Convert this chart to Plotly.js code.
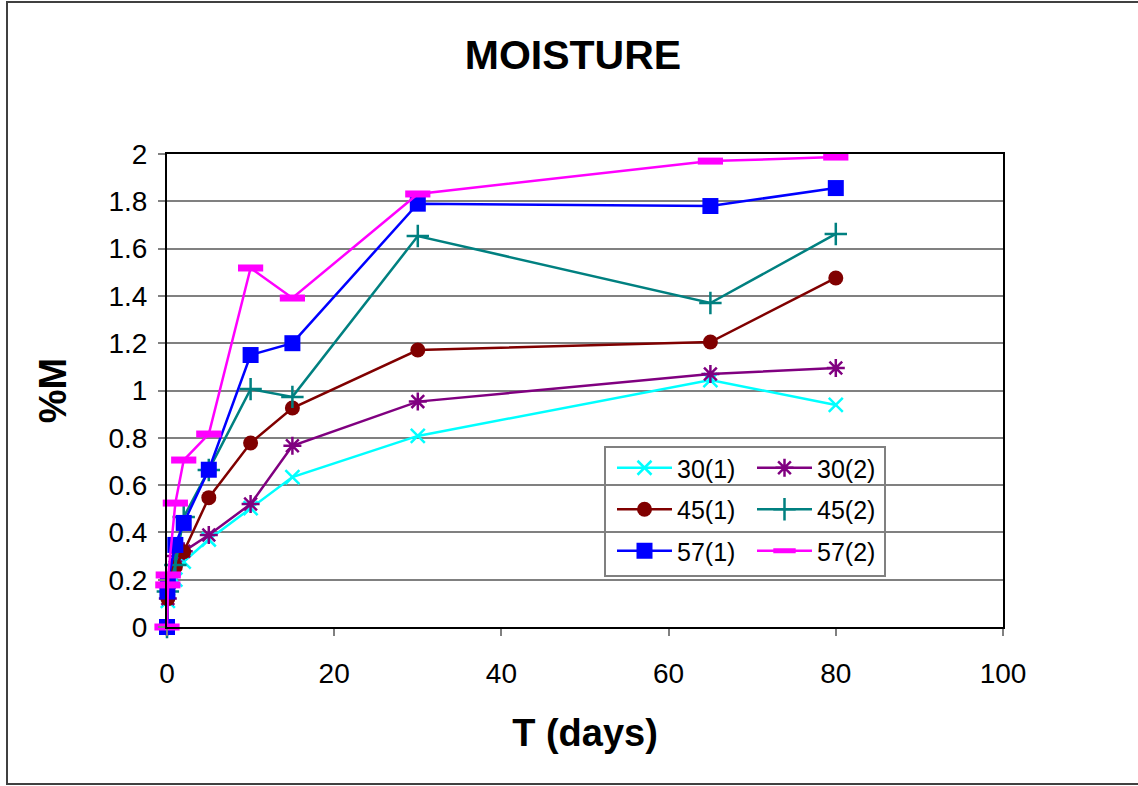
<!DOCTYPE html>
<html><head><meta charset="utf-8">
<script src="https://cdn.plot.ly/plotly-3.0.1.min.js"></script>
<style>html,body{margin:0;padding:0;background:#fff}</style>
</head><body>
<div id="chart" style="width:1138px;height:786px"></div>
<script>
// Data
const names = ["30(1)", "30(2)", "45(1)", "45(2)", "57(1)", "57(2)"];
const x30_1 = [0, 0.1, 1, 2, 5, 10, 15, 30, 65, 80];
const y30_1 = [0, 0.11, 0.2, 0.276, 0.37, 0.503, 0.634, 0.808, 1.044, 0.939];
const x30_2 = [0, 0.1, 1, 2, 5, 10, 15, 30, 65, 80];
const y30_2 = [0, 0.12, 0.3, 0.32, 0.389, 0.52, 0.766, 0.953, 1.07, 1.095];
const x45_1 = [0, 0.1, 1, 2, 5, 10, 15, 30, 65, 80];
const y45_1 = [0, 0.12, 0.255, 0.318, 0.547, 0.778, 0.926, 1.171, 1.205, 1.476];
const x45_2 = [0, 0.1, 1, 2, 5, 10, 15, 30, 65, 80];
const y45_2 = [0, 0.15, 0.262, 0.465, 0.664, 1.006, 0.973, 1.653, 1.37, 1.662];
const x57_1 = [0, 0.05, 0.1, 1, 2, 5, 10, 15, 30, 65, 80];
const y57_1 = [0, 0.15, 0.195, 0.347, 0.44, 0.665, 1.15, 1.2, 1.79, 1.78, 1.856];
const x57_2 = [0, 0.1, 0.15, 1, 2, 5, 10, 15, 30, 65, 80];
const y57_2 = [0, 0.178, 0.22, 0.524, 0.706, 0.816, 1.518, 1.391, 1.831, 1.97, 1.987];

const FONT = "Liberation Sans, Arial, sans-serif";

function tr(name, x, y, color, symbol, size, lw, legend, group) {
  return {
    type: "scatter", mode: "lines+markers", name: name, x: x, y: y,
    cliponaxis: false, legend: legend, legendgroup: group,
    line: {color: color, width: 2.5},
    marker: {symbol: symbol, size: size, color: color, line: {color: color, width: lw}}
  };
}

const data = [
  tr(names[0], x30_1, y30_1, "#00FFFF", "x-thin-open", 14, 2.5, "legend", "a"),
  tr(names[1], x30_2, y30_2, "#800080", "asterisk-open", 15, 2.5, "legend2", "d"),
  tr(names[2], x45_1, y45_1, "#800000", "circle", 15, 0, "legend", "b"),
  tr(names[3], x45_2, y45_2, "#008080", "cross-thin-open", 16, 2.5, "legend2", "e"),
  tr(names[4], x57_1, y57_1, "#0000FF", "square", 16, 0, "legend", "c"),
  tr(names[5], x57_2, y57_2, "#FF00FF", "line-ew-open", 18, 7, "legend2", "f")
];

// geometry helpers (pixel -> paper)
const L = 167, T = 154, R = 1003, B = 627;
const px = v => (v - L) / (R - L);
const py = v => (B - v) / (B - T);

const legendCommon = {
  orientation: "v", bgcolor: "rgba(0,0,0,0)", borderwidth: 0,
  font: {family: FONT, size: 25, color: "#000"},
  traceorder: "grouped", tracegroupgap: 6, itemwidth: 55,
  xanchor: "left", yanchor: "top", itemclick: false
};

const layout = {
  width: 1138, height: 786,
  paper_bgcolor: "#fff", plot_bgcolor: "#fff",
  margin: {l: L, r: 1138 - R, t: T, b: 786 - B},
  showlegend: true,
  title: {text: "<b>MOISTURE</b>", font: {family: FONT, size: 41, color: "#000"},
          x: 573 / 1138, xanchor: "center", xref: "container", y: 1 - 55 / 786, yanchor: "middle", yref: "container"},
  xaxis: {
    range: [0, 100], dtick: 20, tick0: 0,
    showline: true, linecolor: "#000", linewidth: 2, mirror: true,
    showgrid: false, zeroline: false,
    ticks: "outside", ticklen: 7, tickcolor: "#808080", tickwidth: 2,
    ticklabelstandoff: 13,
    tickfont: {family: FONT, size: 28, color: "#000"},
    title: {text: "<b>T (days)</b>", font: {family: FONT, size: 38, color: "#000"}, standoff: 32}
  },
  yaxis: {
    range: [0, 2], dtick: 0.2, tick0: 0,
    showline: true, linecolor: "#000", linewidth: 2, mirror: true,
    showgrid: true, gridcolor: "#808080", gridwidth: 2, zeroline: false,
    ticks: "outside", ticklen: 7, tickcolor: "#808080", tickwidth: 2,
    ticklabelstandoff: 5,
    tickfont: {family: FONT, size: 28, color: "#000"},
    title: {text: "<b>%M</b>", font: {family: FONT, size: 38, color: "#000"}, standoff: 30}
  },
  legend: Object.assign({}, legendCommon, {x: px(612), y: py(445)}),
  legend2: Object.assign({}, legendCommon, {x: px(752), y: py(445)}),
  shapes: [
    {type: "rect", xref: "paper", yref: "paper", x0: px(605), x1: px(885), y0: py(576), y1: py(447),
     line: {color: "#808080", width: 2}, fillcolor: "#fff", layer: "between"},
    {type: "rect", xref: "paper", yref: "paper", x0: px(7), x1: px(1142), y0: py(784), y1: py(2),
     line: {color: "#404040", width: 2}, fillcolor: "rgba(0,0,0,0)", layer: "below"}
  ]
};

Plotly.newPlot("chart", data, layout, {staticPlot: true, displayModeBar: false});
</script>
</body></html>
